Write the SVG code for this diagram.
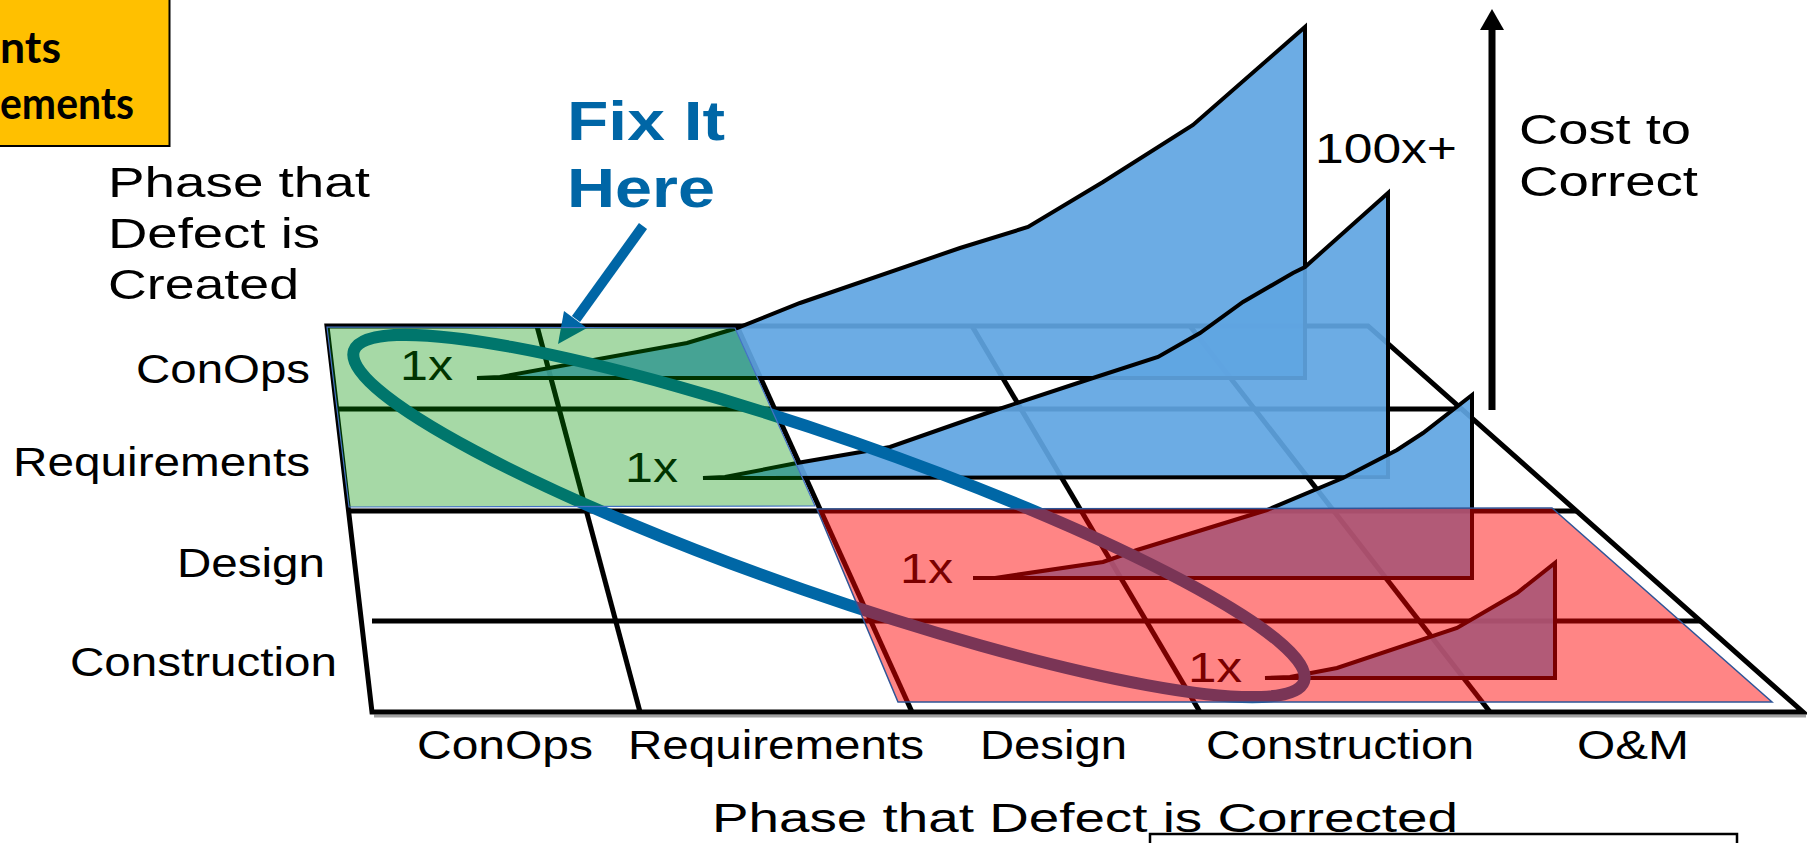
<svg xmlns="http://www.w3.org/2000/svg" width="1807" height="843" viewBox="0 0 1807 843">
<style>
.t{font-family:"Liberation Sans",Arial,Helvetica,sans-serif;fill:#000}
.lab{font-size:40px}
.big{font-size:43px}
.fix{font-size:56px;font-weight:bold;fill:#0066a6}
.one{font-size:42px}
.yb{font-family:Lato,"Liberation Sans",sans-serif;font-weight:bold;font-size:44px;fill:#000}
.g{stroke:#000;stroke-width:5;fill:none}
.cost{fill:#5fa5e2;fill-opacity:.92;stroke:#000;stroke-width:4;stroke-linejoin:miter}
.ovg{fill:#009200;fill-opacity:.35;stroke:#4472c4;stroke-width:1.2}
.ovr{fill:#ff0000;fill-opacity:.48;stroke:#2f5597;stroke-width:1.5}
</style>
<rect width="1807" height="843" fill="#fff"/>

<g id="corner-box">
<rect x="-4" y="-4" width="173.5" height="150" fill="#ffc000" stroke="#000" stroke-width="2"/>
<text class="yb" x="0" y="63" textLength="61" lengthAdjust="spacingAndGlyphs">nts</text>
<text class="yb" x="0" y="119" textLength="134" lengthAdjust="spacingAndGlyphs">ements</text>
</g>

<g id="grid">
<line x1="374" y1="716" x2="1806" y2="716" stroke="#a0a0a0" stroke-width="3"/>
<path class="g" d="M327,326 L1368,326 L1803,712 L372,712 Z" stroke-width="5.5"/>
<line class="g" x1="337" y1="409" x2="1460" y2="409"/>
<line class="g" x1="349" y1="511" x2="1576" y2="511"/>
<line class="g" x1="372" y1="621" x2="1700" y2="621"/>
<line class="g" x1="537" y1="326" x2="640" y2="712"/>
<line class="g" x1="737" y1="326" x2="912" y2="712"/>
<line class="g" x1="972" y1="326" x2="1200" y2="712"/>
<line class="g" x1="1190" y1="326" x2="1490" y2="712"/>
</g>

<g id="cost-conops">
<polygon class="cost" points="477,378 500,377 687,343 737,328 800,303 960,248 1028,227 1103,182 1193,125 1305,27 1305,378"/>
</g>
<g id="cost-requirements">
<polygon class="cost" points="703,478 725,477 797,463 890,447 990,412 1093,378 1158,357 1200,333 1243,302 1293,273 1305,267 1388,193 1388,477"/>
</g>
<g id="cost-design">
<polygon class="cost" points="973,578 995,578 1103,562 1137,550 1267,510 1343,478 1397,450 1423,433 1472,395 1472,578"/>
</g>
<g id="cost-construction">
<polygon class="cost" points="1265,678 1290,677 1337,668 1457,628 1517,593 1555,563 1555,678"/>
</g>

<g id="one-x-labels">
<text class="t one" x="400" y="380" textLength="53" lengthAdjust="spacingAndGlyphs">1x</text>
<text class="t one" x="625" y="482" textLength="53" lengthAdjust="spacingAndGlyphs">1x</text>
<text class="t one" x="900" y="583" textLength="53" lengthAdjust="spacingAndGlyphs">1x</text>
<text class="t one" x="1188" y="682" textLength="54" lengthAdjust="spacingAndGlyphs">1x</text>
</g>

<g id="connectors">
<line x1="643" y1="226" x2="576" y2="319" stroke="#0066a6" stroke-width="10"/>
<polygon points="558,344 587,328 564,311" fill="#0066a6"/>
<line x1="1492" y1="28" x2="1492" y2="410" stroke="#000" stroke-width="7"/>
<polygon points="1492,9 1480,30 1504,30" fill="#000"/>
</g>

<g id="fix-zone">
<ellipse cx="829" cy="516" rx="503" ry="78" transform="rotate(19.2 829 516)" fill="none" stroke="#0067a6" stroke-width="12"/>
</g>

<g id="overlay-green">
<polygon class="ovg" points="327,327 735,328 815,506 349,507"/>
</g>
<g id="overlay-red">
<polygon class="ovr" points="817,509 1552,508 1772,702 898,702"/>
</g>

<g id="labels">
<text class="t big" x="108" y="197" textLength="262" lengthAdjust="spacingAndGlyphs">Phase that</text>
<text class="t big" x="108" y="248" textLength="212" lengthAdjust="spacingAndGlyphs">Defect is</text>
<text class="t big" x="108" y="299" textLength="191" lengthAdjust="spacingAndGlyphs">Created</text>
<text class="t fix" x="567" y="140" textLength="158" lengthAdjust="spacingAndGlyphs">Fix It</text>
<text class="t fix" x="567" y="207" textLength="148" lengthAdjust="spacingAndGlyphs">Here</text>
<text class="t one" x="1315" y="163" textLength="142" lengthAdjust="spacingAndGlyphs">100x+</text>
<text class="t big" x="1519" y="144" textLength="172" lengthAdjust="spacingAndGlyphs">Cost to</text>
<text class="t big" x="1519" y="196" textLength="179" lengthAdjust="spacingAndGlyphs">Correct</text>
<text class="t lab" x="136" y="383" textLength="174" lengthAdjust="spacingAndGlyphs">ConOps</text>
<text class="t lab" x="13" y="476" textLength="297" lengthAdjust="spacingAndGlyphs">Requirements</text>
<text class="t lab" x="177" y="577" textLength="148" lengthAdjust="spacingAndGlyphs">Design</text>
<text class="t lab" x="70" y="676" textLength="267" lengthAdjust="spacingAndGlyphs">Construction</text>
<text class="t lab" x="417" y="759" textLength="176" lengthAdjust="spacingAndGlyphs">ConOps</text>
<text class="t lab" x="628" y="759" textLength="296" lengthAdjust="spacingAndGlyphs">Requirements</text>
<text class="t lab" x="980" y="759" textLength="147" lengthAdjust="spacingAndGlyphs">Design</text>
<text class="t lab" x="1206" y="759" textLength="268" lengthAdjust="spacingAndGlyphs">Construction</text>
<text class="t lab" x="1577" y="759" textLength="112" lengthAdjust="spacingAndGlyphs">O&amp;M</text>
<text class="t lab" x="712" y="832" textLength="746" lengthAdjust="spacingAndGlyphs">Phase that Defect is Corrected</text>
</g>

<g id="footer-box">
<rect x="1150" y="834" width="587" height="20" fill="#fff" stroke="#000" stroke-width="2.5"/>
</g>
</svg>
